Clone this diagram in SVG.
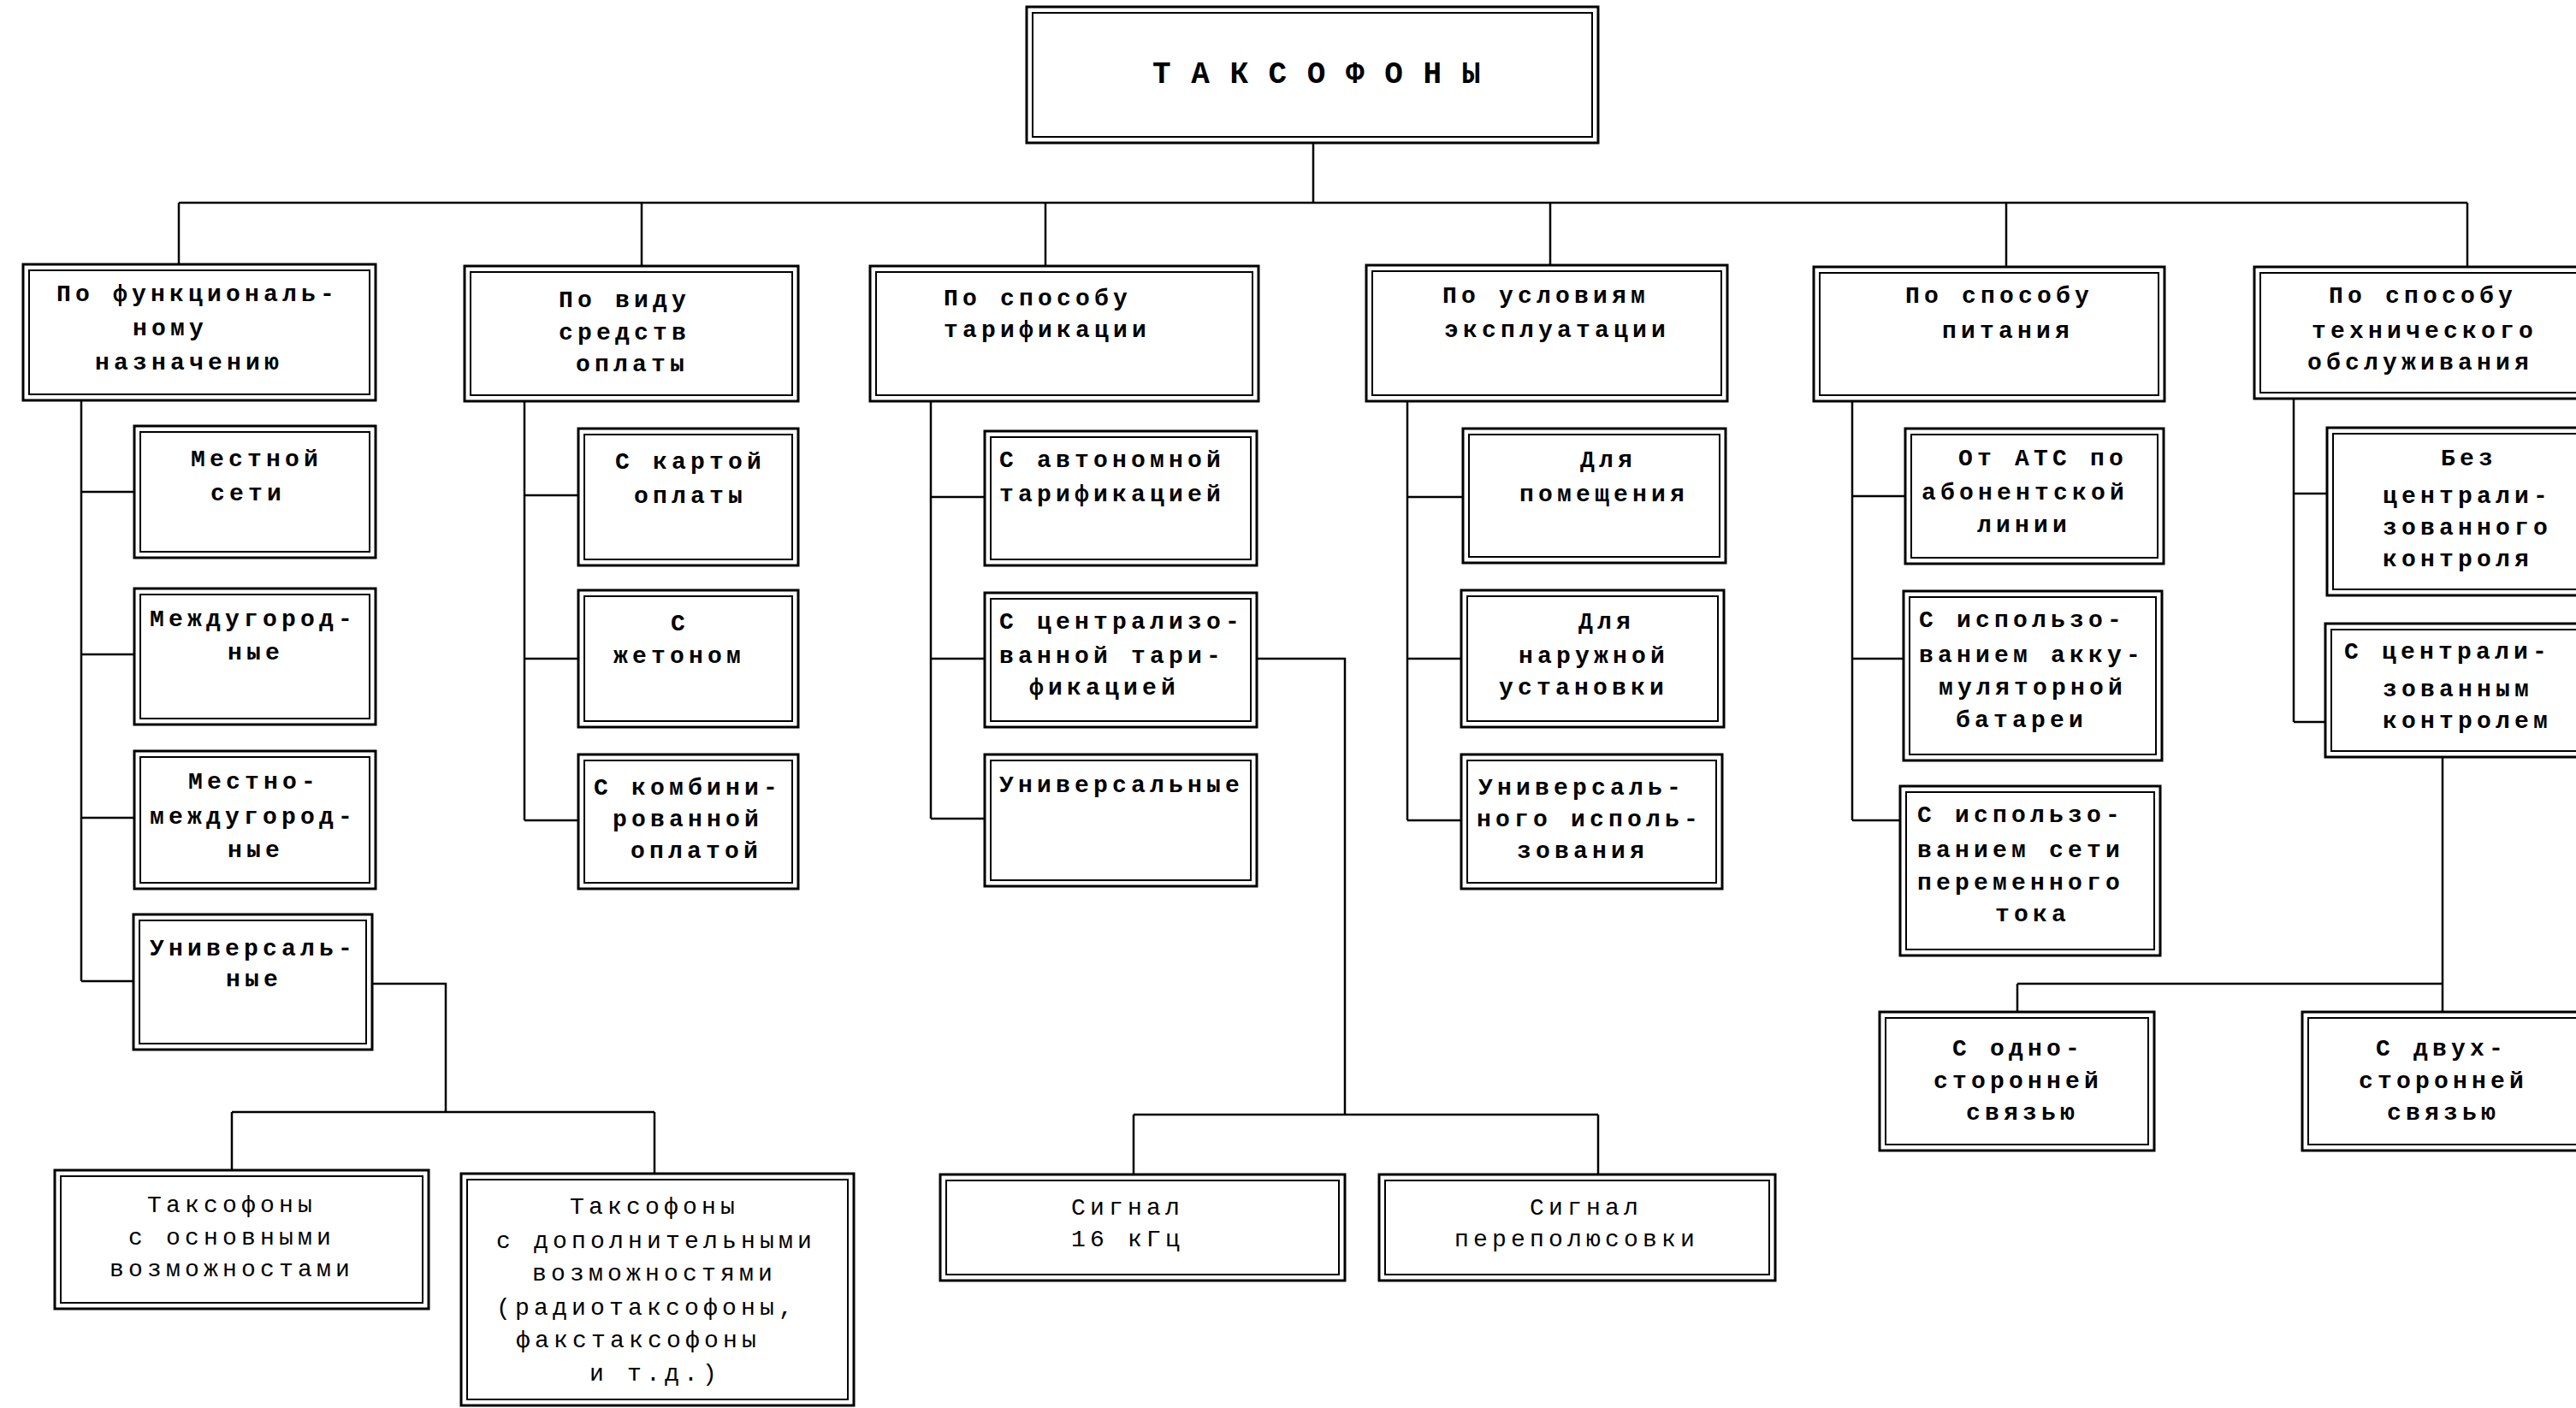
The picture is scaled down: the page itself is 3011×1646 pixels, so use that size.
<svg xmlns="http://www.w3.org/2000/svg" width="3011" height="1646" viewBox="0 0 3011 1646">
<style>
.o{fill:none;stroke:#000;stroke-width:3}
.i{fill:none;stroke:#000;stroke-width:2}
.c{fill:none;stroke:#000;stroke-width:2.5}
text{font-family:"Liberation Mono","DejaVu Sans Mono",monospace;font-size:28px;letter-spacing:5.2px;fill:#000;font-weight:bold}
.n{font-weight:normal}
.ti{font-size:36px;letter-spacing:1px}
</style>
<rect width="3011" height="1646" fill="#fff"/>
<g id="connectors" class="c">
<path d="M1535,167V237M209,237H2884"/>
<path d="M209,237V309M750,237V311M1222,237V311M1812,237V310M2345,237V312M2884,237V312"/>
<path d="M95,468V1147M95,575H157M95,765H157M95,956H157M95,1147H156"/>
<path d="M613,469V959M613,579H676M613,770H676M613,959H676"/>
<path d="M1088,469V957M1088,581H1151M1088,770H1151M1088,957H1151"/>
<path d="M1645,469V959M1645,581H1710M1645,770H1708M1645,959H1708"/>
<path d="M2165,469V959M2165,580H2227M2165,770H2225M2165,959H2221"/>
<path d="M2681,466V844M2681,577H2720M2681,844H2718"/>
<path d="M435,1150H521V1300M271,1300H765M271,1300V1368M765,1300V1372"/>
<path d="M1469,770H1572V1303M1325,1303H1868M1325,1303V1373M1868,1303V1373"/>
<path d="M2855,885V1183M2358,1150H2855M2358,1150V1183"/>
</g>
<g id="root"><rect class="o" x="1200" y="8" width="668" height="159"/><rect class="i" x="1207" y="15" width="654" height="145"/><text class="ti" x="1347" y="97">Т А К С О Ф О Н Ы</text></g>
<g id="n1"><rect class="o" x="27" y="309" width="412" height="159"/><rect class="i" x="34" y="316" width="398" height="145"/><text x="66" y="352">По функциональ-</text><text x="155" y="392">ному</text><text x="111" y="432">назначению</text></g>
<g id="n2"><rect class="o" x="543" y="311" width="390" height="158"/><rect class="i" x="550" y="318" width="376" height="144"/><text x="653" y="359">По виду</text><text x="653" y="397">средств</text><text x="673" y="434">оплаты</text></g>
<g id="n3"><rect class="o" x="1017" y="311" width="454" height="158"/><rect class="i" x="1024" y="318" width="440" height="144"/><text x="1103" y="357">По способу</text><text x="1103" y="394">тарификации</text></g>
<g id="n4"><rect class="o" x="1597" y="310" width="422" height="159"/><rect class="i" x="1604" y="317" width="408" height="145"/><text x="1686" y="354">По условиям</text><text x="1688" y="394">эксплуатации</text></g>
<g id="n5"><rect class="o" x="2120" y="312" width="410" height="157"/><rect class="i" x="2127" y="319" width="396" height="143"/><text x="2227" y="354">По способу</text><text x="2270" y="395">питания</text></g>
<g id="n6"><rect class="o" x="2635" y="312" width="400" height="154"/><rect class="i" x="2642" y="319" width="386" height="140"/><text x="2722" y="354">По способу</text><text x="2702" y="395">технического</text><text x="2697" y="432">обслуживания</text></g>
<g id="n1a"><rect class="o" x="157" y="498" width="282" height="154"/><rect class="i" x="164" y="505" width="268" height="140"/><text x="223" y="545">Местной</text><text x="246" y="585">сети</text></g>
<g id="n1b"><rect class="o" x="157" y="688" width="282" height="159"/><rect class="i" x="164" y="695" width="268" height="145"/><text x="175" y="732">Междугород-</text><text x="266" y="771">ные</text></g>
<g id="n1c"><rect class="o" x="157" y="878" width="282" height="161"/><rect class="i" x="164" y="885" width="268" height="147"/><text x="220" y="922">Местно-</text><text x="175" y="963">междугород-</text><text x="266" y="1002">ные</text></g>
<g id="n1d"><rect class="o" x="156" y="1069" width="279" height="158"/><rect class="i" x="163" y="1076" width="265" height="144"/><text x="175" y="1117">Универсаль-</text><text x="264" y="1153">ные</text></g>
<g id="n2a"><rect class="o" x="676" y="501" width="257" height="160"/><rect class="i" x="683" y="508" width="243" height="146"/><text x="719" y="548">С картой</text><text x="741" y="588">оплаты</text></g>
<g id="n2b"><rect class="o" x="676" y="690" width="257" height="160"/><rect class="i" x="683" y="697" width="243" height="146"/><text x="784" y="737">С</text><text x="717" y="775">жетоном</text></g>
<g id="n2c"><rect class="o" x="676" y="882" width="257" height="157"/><rect class="i" x="683" y="889" width="243" height="143"/><text x="694" y="929">С комбини-</text><text x="716" y="966">рованной</text><text x="737" y="1003">оплатой</text></g>
<g id="n3a"><rect class="o" x="1151" y="504" width="318" height="157"/><rect class="i" x="1158" y="511" width="304" height="143"/><text x="1168" y="546">С автономной</text><text x="1168" y="586">тарификацией</text></g>
<g id="n3b"><rect class="o" x="1151" y="693" width="318" height="157"/><rect class="i" x="1158" y="700" width="304" height="143"/><text x="1168" y="735">С централизо-</text><text x="1168" y="775">ванной тари-</text><text x="1203" y="812">фикацией</text></g>
<g id="n3c"><rect class="o" x="1151" y="882" width="318" height="154"/><rect class="i" x="1158" y="889" width="304" height="140"/><text x="1168" y="926">Универсальные</text></g>
<g id="n4a"><rect class="o" x="1710" y="501" width="307" height="157"/><rect class="i" x="1717" y="508" width="293" height="143"/><text x="1847" y="546">Для</text><text x="1776" y="586">помещения</text></g>
<g id="n4b"><rect class="o" x="1708" y="690" width="307" height="160"/><rect class="i" x="1715" y="697" width="293" height="146"/><text x="1845" y="735">Для</text><text x="1775" y="775">наружной</text><text x="1752" y="812">установки</text></g>
<g id="n4c"><rect class="o" x="1708" y="882" width="305" height="157"/><rect class="i" x="1715" y="889" width="291" height="143"/><text x="1728" y="929">Универсаль-</text><text x="1726" y="966">ного исполь-</text><text x="1773" y="1003">зования</text></g>
<g id="n5a"><rect class="o" x="2227" y="501" width="302" height="158"/><rect class="i" x="2234" y="508" width="288" height="144"/><text x="2289" y="544">От АТС по</text><text x="2246" y="584">абонентской</text><text x="2311" y="622">линии</text></g>
<g id="n5b"><rect class="o" x="2225" y="691" width="302" height="198"/><rect class="i" x="2232" y="698" width="288" height="184"/><text x="2243" y="733">С использо-</text><text x="2243" y="774">ванием акку-</text><text x="2266" y="812">муляторной</text><text x="2286" y="850">батареи</text></g>
<g id="n5c"><rect class="o" x="2221" y="919" width="304" height="198"/><rect class="i" x="2228" y="926" width="290" height="184"/><text x="2241" y="961">С использо-</text><text x="2241" y="1002">ванием сети</text><text x="2241" y="1040">переменного</text><text x="2332" y="1077">тока</text></g>
<g id="n6a"><rect class="o" x="2720" y="500" width="320" height="196"/><rect class="i" x="2727" y="507" width="306" height="182"/><text x="2853" y="544">Без</text><text x="2785" y="588">централи-</text><text x="2785" y="625">зованного</text><text x="2785" y="662">контроля</text></g>
<g id="n6b"><rect class="o" x="2718" y="729" width="320" height="156"/><rect class="i" x="2725" y="736" width="306" height="142"/><text x="2740" y="770">С централи-</text><text x="2785" y="814">зованным</text><text x="2785" y="851">контролем</text></g>
<g id="b1"><rect class="o" x="64" y="1368" width="437" height="162"/><rect class="i" x="71" y="1375" width="423" height="148"/><text class="n" x="172" y="1417">Таксофоны</text><text class="n" x="150" y="1455">с основными</text><text class="n" x="128" y="1492">возможностами</text></g>
<g id="b2"><rect class="o" x="539" y="1372" width="459" height="271"/><rect class="i" x="546" y="1379" width="445" height="257"/><text class="n" x="666" y="1419">Таксофоны</text><text class="n" x="580" y="1459">с дополнительными</text><text class="n" x="622" y="1497">возможностями</text><text class="n" x="580" y="1537">(радиотаксофоны,</text><text class="n" x="603" y="1575">факстаксофоны</text><text class="n" x="689" y="1614">и т.д.)</text></g>
<g id="s1"><rect class="o" x="1099" y="1373" width="473" height="124"/><rect class="i" x="1106" y="1380" width="459" height="110"/><text class="n" x="1252" y="1420">Сигнал</text><text class="n" x="1252" y="1457">16 кГц</text></g>
<g id="s2"><rect class="o" x="1612" y="1373" width="463" height="124"/><rect class="i" x="1619" y="1380" width="449" height="110"/><text class="n" x="1788" y="1420">Сигнал</text><text class="n" x="1700" y="1457">переполюсовки</text></g>
<g id="c1"><rect class="o" x="2197" y="1183" width="321" height="162"/><rect class="i" x="2204" y="1190" width="307" height="148"/><text x="2282" y="1234">С одно-</text><text x="2260" y="1272">сторонней</text><text x="2298" y="1309">связью</text></g>
<g id="c2"><rect class="o" x="2691" y="1183" width="340" height="162"/><rect class="i" x="2698" y="1190" width="326" height="148"/><text x="2777" y="1234">С двух-</text><text x="2757" y="1272">сторонней</text><text x="2790" y="1309">связью</text></g>
</svg>
